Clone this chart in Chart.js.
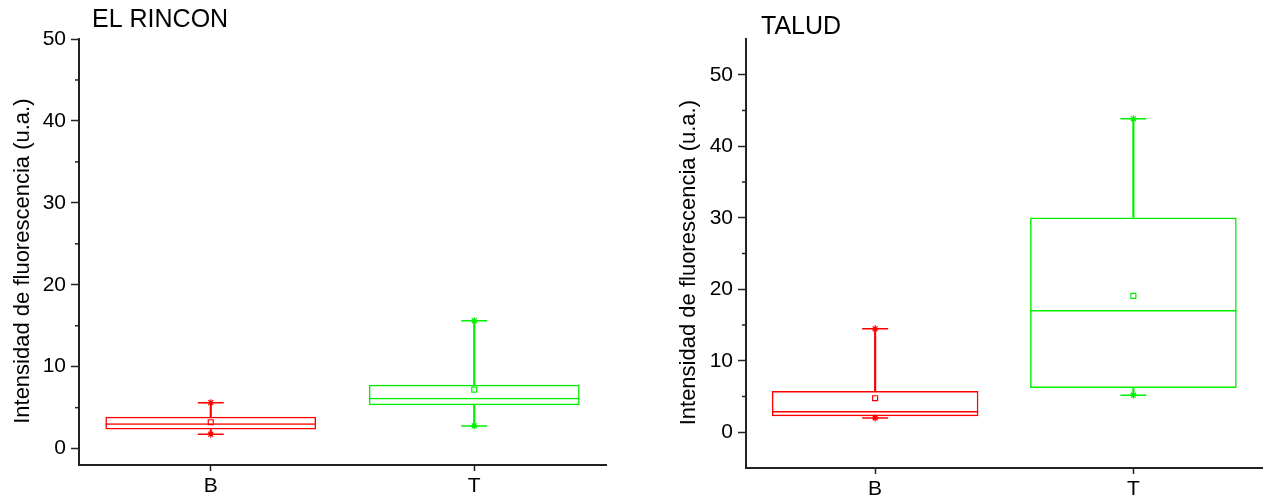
<!DOCTYPE html>
<html>
<head>
<meta charset="utf-8">
<script src="https://cdn.jsdelivr.net/npm/chart.js@4/dist/chart.umd.min.js"></script>
<style>
  body { margin: 0; background: #fff; }
  #rinconChart { position: absolute; left: 0; top: 0; }
  #taludChart { position: absolute; left: 640px; top: 0; }
</style>
</head>
<body>
<canvas id="rinconChart" width="640" height="499"></canvas>
<canvas id="taludChart" width="637" height="499"></canvas>
<script>
// Categories (shared by both panels)
const categories = ['B', 'T'];

// EL RINCON box statistics (B, T)
const rinconMin = [1.76, 2.77];
const rinconQ1 = [2.32, 5.29];
const rinconMedian = [3.10, 6.22];
const rinconQ3 = [3.90, 7.80];
const rinconMax = [5.61, 15.61];
const rinconMean = [3.22, 7.20];
const rinconTicks = [0, 10, 20, 30, 40, 50];

// TALUD box statistics (B, T)
const taludMin = [2.00, 5.18];
const taludQ1 = [2.24, 6.20];
const taludMedian = [2.98, 17.11];
const taludQ3 = [5.78, 30.03];
const taludMax = [14.46, 43.84];
const taludMean = [4.76, 19.07];
const taludTicks = [0, 10, 20, 30, 40, 50];

const boxColors = ['#ff0000', '#00f000'];
const fontFamily = 'Arial, "Liberation Sans", sans-serif';
const axisColor = '#222';

// Draws the panel name and the short minor ticks between the labelled ones
const panelDecor = {
  id: 'panelDecor',
  afterDraw(chart, args, opts) {
    const ctx = chart.ctx;
    const yScale = chart.scales.y;
    ctx.save();
    ctx.strokeStyle = axisColor;
    ctx.lineWidth = 1.5;
    for (let i = 0; i < opts.ticks.length - 1; i++) {
      const py = yScale.getPixelForValue((opts.ticks[i] + opts.ticks[i + 1]) / 2);
      ctx.beginPath();
      ctx.moveTo(yScale.right - 4, py);
      ctx.lineTo(yScale.right, py);
      ctx.stroke();
    }
    ctx.fillStyle = '#000';
    ctx.font = '25px ' + fontFamily;
    ctx.textBaseline = 'alphabetic';
    ctx.textAlign = 'left';
    ctx.fillText(opts.text, chart.chartArea.left + opts.dx, opts.baseline);
    ctx.restore();
  }
};

function pairPoints(a, b) {
  // one point per category for each array, same category order
  const pts = [];
  categories.forEach((c, i) => {
    pts.push({ x: c, y: a[i] });
    pts.push({ x: c, y: b[i] });
  });
  return pts;
}

function createBoxChart(canvasId, name, s, view) {
  const ctx = document.getElementById(canvasId).getContext('2d');
  const pointColors = [boxColors[0], boxColors[0], boxColors[1], boxColors[1]];

  const data = {
    labels: categories,
    datasets: [
      {
        // Box (Q1 - Q3)
        data: categories.map((c, i) => [s.q1[i], s.q3[i]]),
        backgroundColor: 'rgba(0,0,0,0)',
        borderColor: boxColors,
        borderWidth: 1.5,
        borderSkipped: false,
        grouped: false,
        categoryPercentage: 1,
        barPercentage: 0.8
      },
      {
        // Median line (top edge of Q1 - median bar)
        data: categories.map((c, i) => [s.q1[i], s.median[i]]),
        backgroundColor: 'rgba(0,0,0,0)',
        borderColor: boxColors,
        borderWidth: { top: 1.5, right: 0, bottom: 0, left: 0 },
        borderSkipped: false,
        grouped: false,
        categoryPercentage: 1,
        barPercentage: 0.8
      },
      {
        // Upper whisker
        data: categories.map((c, i) => [s.q3[i], s.max[i]]),
        backgroundColor: boxColors,
        borderWidth: 0,
        grouped: false,
        barThickness: 1.5
      },
      {
        // Lower whisker
        data: categories.map((c, i) => [s.min[i], s.q1[i]]),
        backgroundColor: boxColors,
        borderWidth: 0,
        grouped: false,
        barThickness: 1.5
      },
      {
        // Whisker caps
        type: 'line',
        data: pairPoints(s.max, s.min),
        showLine: false,
        pointStyle: 'line',
        pointRadius: 13,
        pointBorderWidth: 1.5,
        pointBorderColor: pointColors
      },
      {
        // Min / max markers
        type: 'line',
        data: pairPoints(s.max, s.min),
        showLine: false,
        pointStyle: 'star',
        pointRadius: 3.5,
        pointBorderWidth: 1.2,
        pointBorderColor: pointColors
      },
      {
        // Mean
        type: 'line',
        data: s.mean,
        showLine: false,
        pointStyle: 'rect',
        pointRadius: 3.5,
        pointBorderWidth: 1.2,
        pointBackgroundColor: 'rgba(0,0,0,0)',
        pointBorderColor: boxColors
      }
    ]
  };

  const config = {
    type: 'bar',
    data: data,
    options: {
      responsive: false,
      animation: false,
      layout: {
        padding: { left: 0, top: 39, right: view.padRight, bottom: 0 }
      },
      plugins: {
        legend: { display: false },
        tooltip: { enabled: false },
        panelDecor: { text: name, dx: view.titleDx, baseline: view.titleBaseline, ticks: s.ticks }
      },
      scales: {
        x: {
          offset: true,
          afterFit: scale => { scale.height = view.xHeight; },
          border: { color: axisColor, width: 2 },
          grid: { offset: false, drawOnChartArea: false, tickLength: 6, tickColor: axisColor, tickWidth: 1.5 },
          ticks: { color: '#000', padding: 3, font: { size: 21, family: fontFamily } }
        },
        y: {
          min: view.min,
          max: view.max,
          afterBuildTicks: scale => { scale.ticks = s.ticks.map(v => ({ value: v })); },
          afterFit: scale => { scale.width = view.yWidth; },
          border: { color: axisColor, width: 2 },
          grid: { drawOnChartArea: false, tickLength: 8, tickColor: axisColor, tickWidth: 1.5 },
          ticks: { color: '#000', padding: 5, font: { size: 21, family: fontFamily } },
          title: {
            display: true,
            // trailing spaces nudge the centred label a little lower, as in the original
            text: 'Intensidad de fluorescencia (u.a.)   ',
            color: '#000',
            font: { size: 22, family: fontFamily },
            padding: { top: view.titlePad, bottom: 0 }
          }
        }
      }
    },
    plugins: [panelDecor]
  };

  new Chart(ctx, config);
}

createBoxChart('rinconChart', 'EL RINCON', {
  min: rinconMin, q1: rinconQ1, median: rinconMedian, q3: rinconQ3,
  max: rinconMax, mean: rinconMean, ticks: rinconTicks
}, { min: -2, max: 50, yWidth: 79, xHeight: 34, padRight: 34, titlePad: 10, titleDx: 13, titleBaseline: 27 });

createBoxChart('taludChart', 'TALUD', {
  min: taludMin, q1: taludQ1, median: taludMedian, q3: taludQ3,
  max: taludMax, mean: taludMean, ticks: taludTicks
}, { min: -5, max: 55, yWidth: 106, xHeight: 31, padRight: 1, titlePad: 36, titleDx: 15, titleBaseline: 34 });
</script>
</body>
</html>
